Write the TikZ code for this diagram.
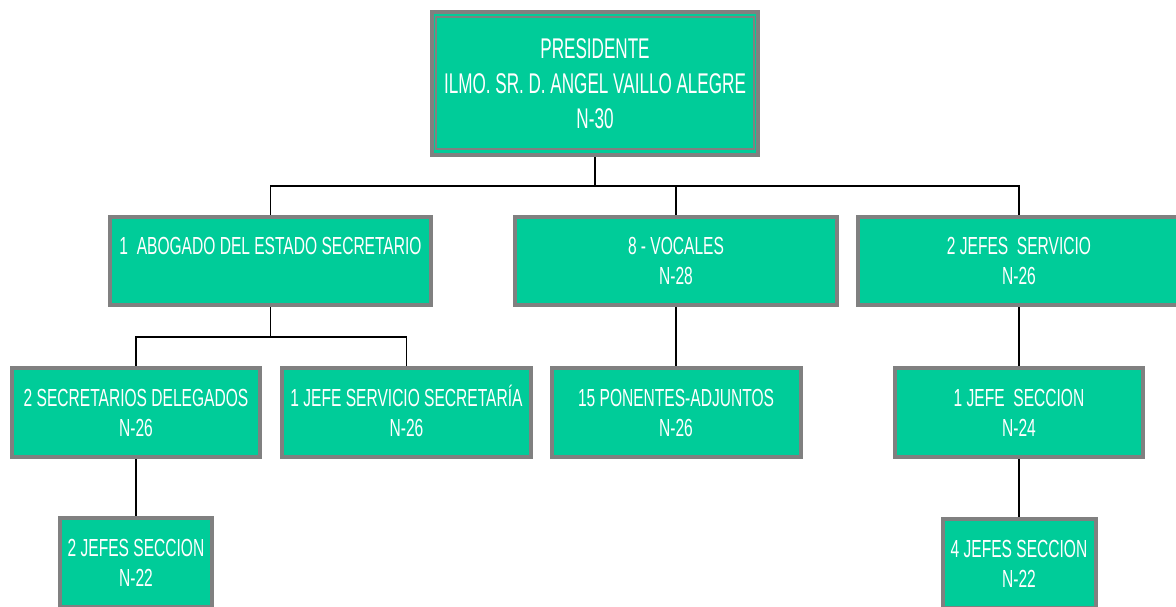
\documentclass[tikz,border=0pt]{standalone}
\usepackage{fontspec}
\setmainfont[FakeStretch=0.63]{Liberation Sans}
\newfontfamily\presfont[FakeStretch=0.6]{Liberation Sans}
\usetikzlibrary{backgrounds}
\definecolor{boxfill}{RGB}{0,204,153}
\definecolor{boxline}{RGB}{128,128,128}
\tikzset{
  orgbox/.style={draw=boxline, line width=4pt, fill=boxfill, text=white,
    inner sep=0pt, align=center, font=\fontsize{24.7}{30}\selectfont},
  conn/.style={draw=black, line width=1.4pt}
}
\begin{document}
\begin{tikzpicture}[x=1pt,y=-1pt]
\useasboundingbox (0,0) rectangle (1176,606);
\clip (0,0) rectangle (1176,606);
% president
\node[orgbox, minimum width=326pt, minimum height=143pt,
  font=\presfont\fontsize{28.5}{35}\selectfont] (pres) at (595,83.5)
  {PRESIDENTE\\ILMO. SR. D. ANGEL VAILLO ALEGRE\\N-30};
\draw[boxline, line width=2pt] (436,17) rectangle (754,149);
% level 2
\node[orgbox, minimum width=321pt, minimum height=88pt] (abog) at (270.5,261)
  {1~~ABOGADO DEL ESTADO SECRETARIO\\\phantom{N}};
\node[orgbox, minimum width=322pt, minimum height=88pt] (voc) at (676,261)
  {8 - VOCALES\\N-28};
\node[orgbox, minimum width=322pt, minimum height=88pt] (jserv) at (1019,261)
  {2 JEFES~~SERVICIO\\N-26};
% level 3
\node[orgbox, minimum width=248pt, minimum height=89pt] (secdel) at (136,412.5)
  {2 SECRETARIOS DELEGADOS\\N-26};
\node[orgbox, minimum width=249pt, minimum height=89pt] (jss) at (406.5,412.5)
  {1 JEFE SERVICIO SECRETAR\smash{Í}A\\N-26};
\node[orgbox, minimum width=249pt, minimum height=89pt] (pon) at (676,412.5)
  {15 PONENTES-ADJUNTOS\\N-26};
\node[orgbox, minimum width=248pt, minimum height=89pt] (jsec1) at (1019,412.5)
  {1 JEFE~~SECCION\\N-24};
% level 4
\node[orgbox, minimum width=152pt, minimum height=89pt] (js22a) at (136,562.5)
  {2 JEFES SECCION\\N-22};
\node[orgbox, minimum width=153pt, minimum height=89pt] (js22b) at (1019,563.5)
  {4 JEFES SECCION\\N-22};
% connectors
\coordinate (bus) at (595,186);
\coordinate (bus2) at (270.5,337);
\begin{scope}[on background layer]
\draw[conn] (pres.south) -- (bus);
\draw[conn] (abog.north) |- (bus) -| (jserv.north);
\draw[conn] (voc.north) -- (voc.north |- bus);
\draw[conn] (abog.south) -- (bus2);
\draw[conn] (secdel.north) |- (bus2) -| (jss.north);
\draw[conn] (voc.south) -- (pon.north);
\draw[conn] (secdel.south) -- (js22a.north);
\draw[conn] (jserv.south) -- (jsec1.north);
\draw[conn] (jsec1.south) -- (js22b.north);
\end{scope}
\end{tikzpicture}
\end{document}
